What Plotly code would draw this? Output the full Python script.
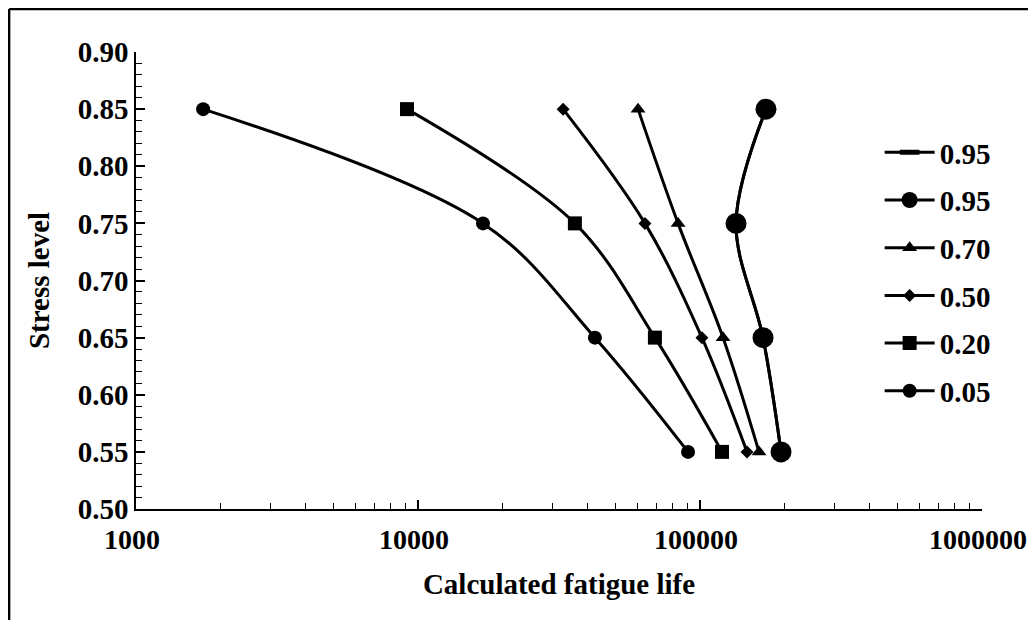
import plotly.graph_objects as go

# stress levels (y) and calculated fatigue life (x) for each survival probability
stress = [0.85, 0.75, 0.65, 0.55]

life_095 = [171400, 134200, 167300, 193800]
life_070 = [60300, 83600, 120700, 161900]
life_050 = [32700, 63800, 101600, 146800]
life_020 = [9140, 36000, 69200, 119700]
life_005 = [1730, 17000, 42400, 90700]

x_ticks = [1000, 10000, 100000, 1000000]

FONT = "Liberation Serif"
FS = 29

fig = go.Figure()

# (name, data, symbol, size, marker line width)
series = [
    ("0.95", life_095, "line-ew", 14, 6),
    ("0.95", life_095, "circle", 21, 0),
    ("0.70", life_070, "triangle-up", 13, 0),
    ("0.50", life_050, "diamond", 10, 0),
    ("0.20", life_020, "square", 14, 0),
    ("0.05", life_005, "circle", 14, 0),
]

for i, (name, vals, sym, sz, lw) in enumerate(series):
    fig.add_trace(go.Scatter(
        x=vals, y=stress, name=name, mode="lines+markers",
        legendgroup="g%d" % i,
        line=dict(color="black", width=3, shape="spline", smoothing=1),
        marker=dict(symbol=sym, size=sz, color="black",
                    line=dict(color="black", width=lw)),
    ))

# page body adds an 8px offset, so the figure is 8px smaller and margins shifted
fig.update_layout(
    width=1028, height=612,
    margin=dict(l=128, r=54, t=44, b=111, autoexpand=False),
    paper_bgcolor="white", plot_bgcolor="white",
    font=dict(family=FONT, size=FS, color="black"),
    showlegend=True,
    legend=dict(x=0.879, y=0.836, xanchor="left", yanchor="top",
                font=dict(family=FONT, size=FS, color="black", weight="bold"),
                itemwidth=50, tracegroupgap=7, bgcolor="rgba(0,0,0,0)"),
)

fig.update_xaxes(
    type="log", range=[3, 6],
    tickvals=x_ticks, ticktext=[str(v) for v in x_ticks],
    ticks="inside", ticklen=9, tickwidth=1.5, tickcolor="black",
    showline=True, linewidth=1.5, linecolor="black",
    showgrid=False, zeroline=False,
    ticklabelstandoff=5, ticklabeloverflow="allow", ticklabelshift=-4,
    tickfont=dict(family=FONT, size=28, weight="bold"),
    minor=dict(ticks="inside", ticklen=6, tickwidth=1.2, tickcolor="black",
               dtick="D1", showgrid=False),
    title=dict(text="Calculated fatigue life", standoff=19,
               font=dict(family=FONT, size=FS, weight="bold")),
)

fig.update_yaxes(
    range=[0.5, 0.9], dtick=0.05, tickformat=".2f",
    ticks="inside", ticklen=9, tickwidth=1.5, tickcolor="black",
    showline=True, linewidth=1.5, linecolor="black",
    showgrid=False, zeroline=False,
    ticklabelstandoff=0,
    tickfont=dict(family=FONT, size=FS, weight="bold"),
    minor=dict(ticks="inside", ticklen=6, tickwidth=1.2, tickcolor="black",
               dtick=0.01, showgrid=False),
    title=dict(text="Stress level", standoff=20,
               font=dict(family=FONT, size=FS, weight="bold")),
)

# outer frame (left and top edges)
fig.add_shape(type="line", xref="paper", yref="paper",
              x0=-0.150, x1=-0.150, y0=1.0941, y1=-0.3,
              line=dict(color="black", width=2.5))
fig.add_shape(type="line", xref="paper", yref="paper",
              x0=-0.150, x1=1.1, y0=1.0941, y1=1.0941,
              line=dict(color="black", width=2.5))

fig.write_html("out.html")
